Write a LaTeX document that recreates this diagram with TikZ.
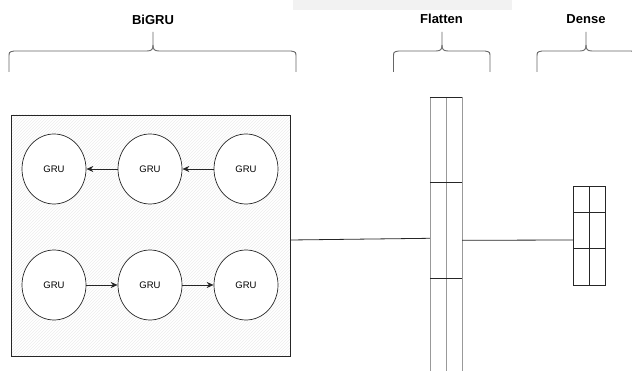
\documentclass[tikz,border=0pt]{standalone}
\usepackage{fontspec}
\setmainfont{Liberation Sans}
\usetikzlibrary{arrows.meta,patterns,shapes.geometric}

% curly bracket over a layer: left x, tip x, right x
\newcommand{\layerbrace}[3]{%
  \draw[bracketline]
    (#1,72) -- (#1,57) .. controls (#1,52) .. (#1+5,51) -- (#2-6,51)
    .. controls (#2-1,51) and (#2,49) .. (#2,45) -- (#2,32);
  \draw[bracketline]
    (#2,45) .. controls (#2,49) and (#2+1,51) .. (#2+6,51) -- (#3-5,51)
    .. controls (#3,52) .. (#3,57) -- (#3,72);
}

\begin{document}
\begin{tikzpicture}[x=1pt,y=-1pt,
  bracketline/.style={draw=black!60, line width=0.9pt},
  layerlabel/.style={font=\bfseries\fontsize{13}{15}\selectfont},
  gru/.style={ellipse, draw=black!85, fill=white, line width=0.7pt,
    minimum width=64pt, minimum height=70pt, inner sep=0pt,
    font=\fontsize{9.5}{11}\selectfont},
  link/.style={draw=black!85, line width=0.7pt, -{Stealth[length=7pt,width=6pt]}},
  wire/.style={draw=black!85, line width=0.8pt},
  cellgray/.style={draw=black!40, line width=0.9pt},
  celldark/.style={draw=black!85, line width=0.8pt}]
\useasboundingbox (0,0) rectangle (632,371);
\clip (0,0) rectangle (632,371);

% faint strip along the top edge
\fill[black!5] (293,0) rectangle (512,10);

% layer titles and brackets
\node[layerlabel] (tbigru) at (153,20) {BiGRU};
\node[layerlabel] (tflat) at (441.5,19) {Flatten};
\node[layerlabel] (tdense) at (586,19) {Dense};
\layerbrace{9}{153}{296}
\layerbrace{393.5}{442}{490}
\layerbrace{537}{586}{636}

% bidirectional GRU block
\node[draw=black!85, line width=0.8pt, pattern=north east lines, pattern color=black!7,
  minimum width=279pt, minimum height=241pt, inner sep=0pt] (bigru) at (150.5,235.5) {};

\node[gru] (g11) at (54,169) {GRU};
\node[gru] (g12) at (150,169) {GRU};
\node[gru] (g13) at (246,169) {GRU};
\node[gru] (g21) at (54,285) {GRU};
\node[gru] (g22) at (150,285) {GRU};
\node[gru] (g23) at (246,285) {GRU};

\draw[link] (g13) -- (g12);
\draw[link] (g12) -- (g11);
\draw[link] (g21) -- (g22);
\draw[link] (g22) -- (g23);

% flatten column (runs past the lower edge)
\node[minimum width=31.7pt, minimum height=290pt, inner sep=0pt, anchor=north] (flat) at (446,97) {};
\draw[cellgray] (flat.north west) -- (flat.south west);
\draw[cellgray] (flat.north) -- (flat.south);
\draw[cellgray] (flat.north east) -- (flat.south east);
\draw[celldark] (flat.north west) -- (flat.north east);
\draw[celldark] ([yshift=-85pt]flat.north west) -- ([yshift=-85pt]flat.north east);
\draw[celldark] ([yshift=-181.7pt]flat.north west) -- ([yshift=-181.7pt]flat.north east);

% dense block
\node[draw=black!85, line width=0.8pt, minimum width=31.6pt, minimum height=98.3pt,
  inner sep=0pt] (dense) at (589.5,235.8) {};
\draw[celldark] (dense.north) -- (dense.south);
\draw[celldark] ([yshift=-26.6pt]dense.north west) -- ([yshift=-26.6pt]dense.north east);
\draw[celldark] ([yshift=-62.6pt]dense.north west) -- ([yshift=-62.6pt]dense.north east);

% connectors between layers
\coordinate (b1) at (bigru.east |- 0,240);
\coordinate (f1) at (flat.west |- 0,238.3);
\coordinate (f2) at (flat.east |- 0,240.3);
\coordinate (d1) at (dense.west |- 0,240);
\draw[wire] (b1) -- (f1);
\draw[wire] (f2) -- (d1);
\end{tikzpicture}
\end{document}
